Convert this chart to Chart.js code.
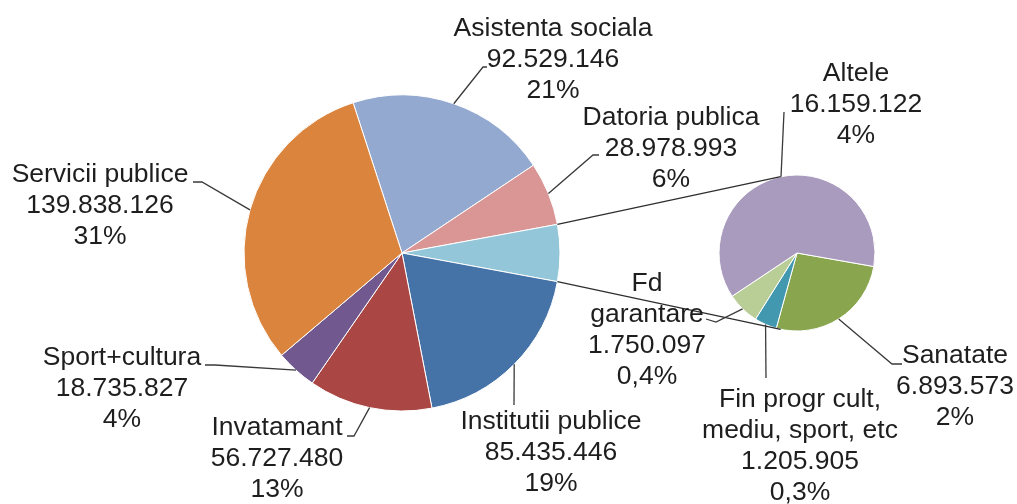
<!DOCTYPE html>
<html>
<head>
<meta charset="utf-8">
<script src="https://cdn.jsdelivr.net/npm/chart.js@4/dist/chart.umd.min.js"></script>
<style>
  body { margin: 0; background: #fff; }
  #wrap { position: relative; width: 1017px; height: 504px; }
  canvas { position: absolute; left: 0; top: 0; }
</style>
</head>
<body>
<div id="wrap">
  <canvas id="mainPie" width="1017" height="504"></canvas>
  <canvas id="subPie" width="1017" height="504"></canvas>
</div>
<script>
// main pie (the "Altele" group slice is inserted after Datoria publica)
const mainLabels = ["Asistenta sociala", "Datoria publica", "Institutii publice", "Invatamant", "Sport+cultura", "Servicii publice"];
const mainValues = [92529146, 28978993, 85435446, 56727480, 18735827, 139838126];
const groupIndex = 2;

// second pie (breakdown of the group slice)
const subLabels = ["Sanatate", ["Fin progr cult,", "mediu, sport, etc"], ["Fd", "garantare"], "Altele"];
const subValues = [6893573, 1205905, 1750097, 16159122];

const mainColors = ["#94A9D0", "#D99694", "#93C6D9", "#4572A7", "#AA4643", "#71588F", "#DB843D"];
const subColors = ["#89A54E", "#4198AF", "#B9CD96", "#A99BBD"];

const groupValue = subValues.reduce((a, b) => a + b, 0);
const pieValues = mainValues.slice();
pieValues.splice(groupIndex, 0, groupValue);
const pieLabels = mainLabels.slice();
pieLabels.splice(groupIndex, 0, null);
const total = mainValues.reduce((a, b) => a + b, 0) + groupValue;

// rotate so the group slice points straight right, at the second pie
const before = pieValues.slice(0, groupIndex).reduce((a, b) => a + b, 0);
const mainRotation = 90 - (before + groupValue / 2) / total * 360;

const FONT = '26.5px "Liberation Sans", Arial, sans-serif';
const LINE_H = 31;

function fmtNum(n) {
    return String(n).replace(/\B(?=(\d{3})+(?!\d))/g, ".");
}
function fmtPct(v) {
    const p = v / total * 100;
    return p < 1 ? p.toFixed(1).replace(".", ",") + "%" : Math.round(p) + "%";
}

// label placement, offsets from the pie centre: text centre x, first baseline, leader bends
const mainLayout = [
    { dx: 151, dy: -217, leader: [[81, -186], [85, -186]] },
    { dx: 269, dy: -128, leader: [[191, -98], [197, -98]] },
    null,
    { dx: 149, dy: 176, leader: [[112, 152]] },
    { dx: -125, dy: 182, leader: [[-48, 183], [-55, 183]] },
    { dx: -280, dy: 112, leader: [[-187, 112], [-197, 112]] },
    { dx: -302, dy: -71, leader: [[-200, -71], [-209, -71]] }
];
const subLayout = [
    { dx: 158, dy: 110, leader: [[95, 111], [105, 111]] },
    { dx: 3, dy: 154, leader: [[-31, 125]] },
    { dx: -150, dy: 38, leader: [[-81, 69], [-91, 66]] },
    { dx: 59, dy: -172, leader: [[-13, -141]] }
];

function labelPlugin(labels, values, layout) {
    return {
        id: "sliceLabels",
        afterDraw(chart) {
            const ctx = chart.ctx;
            const arcs = chart.getDatasetMeta(0).data;
            ctx.save();
            ctx.font = FONT;
            ctx.textAlign = "center";
            ctx.textBaseline = "alphabetic";
            arcs.forEach((arc, i) => {
                const lay = layout[i];
                if (!lay) return;
                const mid = (arc.startAngle + arc.endAngle) / 2;
                const cx = arc.x, cy = arc.y, r = arc.outerRadius;
                ctx.strokeStyle = "#3a3a3a";
                ctx.lineWidth = 1.3;
                ctx.beginPath();
                ctx.moveTo(cx + Math.cos(mid) * r, cy + Math.sin(mid) * r);
                lay.leader.forEach(p => ctx.lineTo(cx + p[0], cy + p[1]));
                ctx.stroke();

                const name = labels[i];
                const lines = (Array.isArray(name) ? name : [name]).concat([fmtNum(values[i]), fmtPct(values[i])]);
                ctx.fillStyle = "#1e1e1e";
                lines.forEach((t, k) => ctx.fillText(t, cx + lay.dx, cy + lay.dy + k * LINE_H));
            });
            ctx.restore();
        }
    };
}

function tangentPoint(px, py, cx, cy, r, upper) {
    const d = Math.hypot(px - cx, py - cy);
    const base = Math.atan2(py - cy, px - cx);
    const a = Math.acos(r / d);
    const p1 = [cx + r * Math.cos(base + a), cy + r * Math.sin(base + a)];
    const p2 = [cx + r * Math.cos(base - a), cy + r * Math.sin(base - a)];
    if (upper) return p1[1] < p2[1] ? p1 : p2;
    return p1[1] > p2[1] ? p1 : p2;
}

const mainChart = new Chart(document.getElementById("mainPie"), {
    type: "pie",
    data: {
        labels: pieLabels,
        datasets: [{
            data: pieValues,
            backgroundColor: mainColors,
            borderColor: "#ffffff",
            borderWidth: 1,
            radius: 158
        }]
    },
    options: {
        responsive: false,
        animation: false,
        rotation: mainRotation,
        layout: { padding: { left: 242, right: 455, top: 93, bottom: 91 } },
        plugins: { legend: { display: false }, tooltip: { enabled: false } }
    },
    plugins: [labelPlugin(pieLabels, pieValues, mainLayout)]
});

const connectorPlugin = {
    id: "connectors",
    afterDraw(chart) {
        const g = mainChart.getDatasetMeta(0).data[groupIndex];
        const sub = chart.getDatasetMeta(0).data[0];
        const ctx = chart.ctx;
        const ends = [[g.startAngle, true], [g.endAngle, false]];
        ctx.save();
        ctx.strokeStyle = "#2e2e2e";
        ctx.lineWidth = 1.3;
        ends.forEach(([ang, upper]) => {
            const px = g.x + Math.cos(ang) * g.outerRadius;
            const py = g.y + Math.sin(ang) * g.outerRadius;
            const t = tangentPoint(px, py, sub.x, sub.y, sub.outerRadius, upper);
            ctx.beginPath();
            ctx.moveTo(px, py);
            ctx.lineTo(t[0], t[1]);
            ctx.stroke();
        });
        ctx.restore();
    }
};

const subChart = new Chart(document.getElementById("subPie"), {
    type: "pie",
    data: {
        labels: subLabels,
        datasets: [{
            data: subValues,
            backgroundColor: subColors,
            borderColor: "#ffffff",
            borderWidth: 1,
            radius: 78
        }]
    },
    options: {
        responsive: false,
        animation: false,
        rotation: 100,
        layout: { padding: { left: 717, right: 140, top: 173, bottom: 171 } },
        plugins: { legend: { display: false }, tooltip: { enabled: false } }
    },
    plugins: [connectorPlugin, labelPlugin(subLabels, subValues, subLayout)]
});
</script>
</body>
</html>
